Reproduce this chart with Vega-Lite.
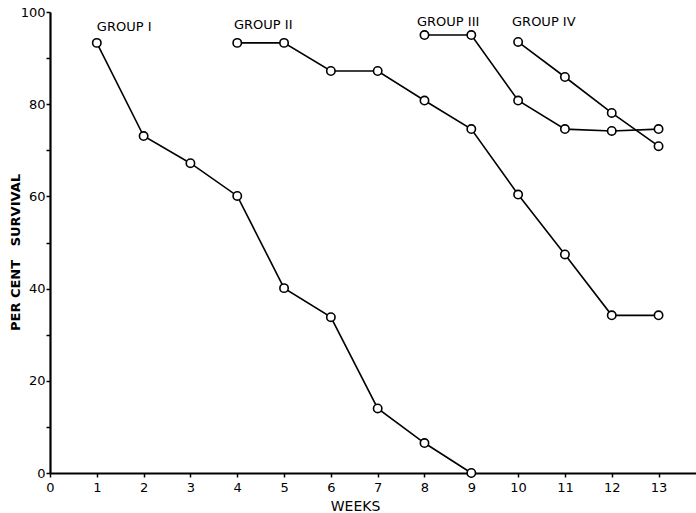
{
  "$schema": "https://vega.github.io/schema/vega-lite/v6.json",
  "autosize": "none",
  "width": 646,
  "height": 461,
  "padding": {"left": 50, "top": 12, "right": 0, "bottom": 40},
  "background": "white",
  "config": {
    "view": {"stroke": null},
    "font": "DejaVu Sans",
    "axis": {"domainColor": "black", "tickColor": "black", "labelColor": "black", "titleColor": "black", "grid": false, "domainWidth": 2.2, "tickWidth": 1.5}
  },
  "datasets": {
    "survival": [
      {"group": "I", "week": 1, "pct": 93.3},
      {"group": "I", "week": 2, "pct": 73.1},
      {"group": "I", "week": 3, "pct": 67.2},
      {"group": "I", "week": 4, "pct": 60.1},
      {"group": "I", "week": 5, "pct": 40.1},
      {"group": "I", "week": 6, "pct": 33.8},
      {"group": "I", "week": 7, "pct": 14.0},
      {"group": "I", "week": 8, "pct": 6.5},
      {"group": "I", "week": 9, "pct": 0},
      {"group": "II", "week": 4, "pct": 93.3},
      {"group": "II", "week": 5, "pct": 93.3},
      {"group": "II", "week": 6, "pct": 87.2},
      {"group": "II", "week": 7, "pct": 87.2},
      {"group": "II", "week": 8, "pct": 80.8},
      {"group": "II", "week": 9, "pct": 74.6},
      {"group": "II", "week": 10, "pct": 60.4},
      {"group": "II", "week": 11, "pct": 47.4},
      {"group": "II", "week": 12, "pct": 34.2},
      {"group": "II", "week": 13, "pct": 34.2},
      {"group": "III", "week": 8, "pct": 95.0},
      {"group": "III", "week": 9, "pct": 95.0},
      {"group": "III", "week": 10, "pct": 80.8},
      {"group": "III", "week": 11, "pct": 74.6},
      {"group": "III", "week": 12, "pct": 74.2},
      {"group": "III", "week": 13, "pct": 74.6},
      {"group": "IV", "week": 10, "pct": 93.5},
      {"group": "IV", "week": 11, "pct": 85.9},
      {"group": "IV", "week": 12, "pct": 78.1},
      {"group": "IV", "week": 13, "pct": 70.9}
    ],
    "labels": [
      {"text": "GROUP I", "week": 1.0, "pct": 96.8},
      {"text": "GROUP II", "week": 3.93, "pct": 97.2},
      {"text": "GROUP III", "week": 7.84, "pct": 97.8},
      {"text": "GROUP IV", "week": 9.87, "pct": 97.8}
    ]
  },
  "layer": [
    {
      "data": {"name": "survival"},
      "mark": {"type": "line", "color": "black", "strokeWidth": 1.6},
      "encoding": {
        "x": {
          "field": "week", "type": "quantitative",
          "scale": {"domain": [0, 13.8], "nice": false, "zero": false},
          "axis": {
            "values": [0,1,2,3,4,5,6,7,8,9,10,11,12,13],
            "title": "WEEKS", "titleFontSize": 14, "titleFontWeight": "normal",
            "titleX": 305, "titleY": 33, "titleBaseline": "middle",
            "labelFontSize": 13, "tickSize": 4, "labelPadding": 4, "labelFlush": false
          }
        },
        "y": {
          "field": "pct", "type": "quantitative",
          "scale": {"domain": [0, 100], "nice": false},
          "axis": {
            "values": [0,10,20,30,40,50,60,70,80,90,100],
            "labelExpr": "datum.value % 20 === 0 ? datum.label : ''",
            "title": "PER CENT\u00a0\u00a0\u00a0SURVIVAL", "titleFontSize": 13, "titleFontWeight": "bold",
            "titleX": -35, "titleY": 240, "titleAngle": -90, "titleBaseline": "middle",
            "labelFontSize": 13, "tickSize": 4, "labelPadding": 1, "labelFlush": false
          }
        },
        "detail": {"field": "group"}
      }
    },
    {
      "data": {"name": "survival"},
      "mark": {"type": "point", "shape": "circle", "filled": true, "fill": "white", "stroke": "black", "strokeWidth": 1.6, "size": 70, "opacity": 1},
      "encoding": {
        "x": {"field": "week", "type": "quantitative"},
        "y": {"field": "pct", "type": "quantitative"}
      }
    },
    {
      "data": {"name": "labels"},
      "mark": {"type": "text", "align": "left", "baseline": "middle", "fontSize": 13, "color": "black"},
      "encoding": {
        "x": {"field": "week", "type": "quantitative"},
        "y": {"field": "pct", "type": "quantitative"},
        "text": {"field": "text"}
      }
    }
  ]
}
